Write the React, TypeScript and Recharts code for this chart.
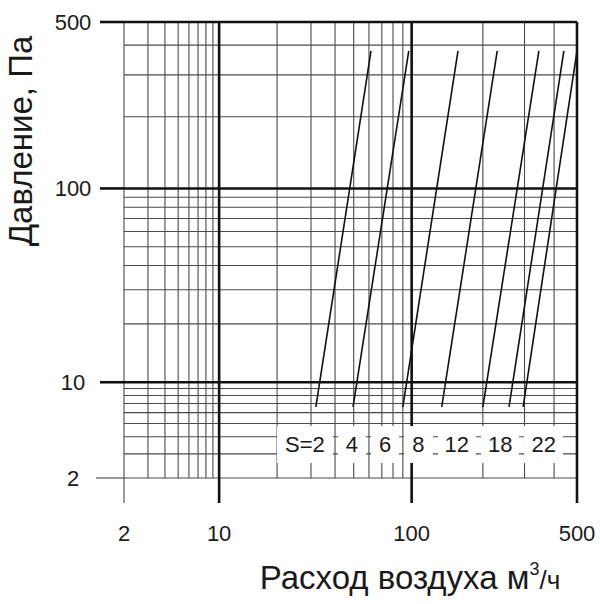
import React from 'react';
import { LineChart, Line, XAxis, YAxis, CartesianGrid, Legend } from 'recharts';

const FONT = '"Liberation Sans", Arial, Helvetica, sans-serif';

// damper settings S and where each characteristic starts and ends
const sValues = [2, 4, 6, 8, 12, 18, 22];
const flowAtLow = [31.8, 49.6, 90, 134, 200, 258, 296];
const flowAtHigh = [61.5, 96.6, 157, 230, 345, 440, 500];
const pressureLow = 6.6;
const pressureHigh = 378;

const axisTicks = [2, 10, 100, 500];
const majorGrid = [10, 100, 500];
const minorGrid = [2, 3, 4, 5, 6, 7, 8, 9, 20, 30, 40, 50, 60, 70, 80, 90, 200, 300, 400];

const series = sValues.map((s, i) => ({
  name: String(s),
  points: [
    { x: flowAtLow[i], y: pressureLow },
    { x: flowAtHigh[i], y: pressureHigh },
  ],
}));

// the printed axes are not a true log scale: 2..10 is squeezed and 100..500 stretched,
// so each segment gets its own share of the axis and is log inside it
const breaks = [2, 10, 100, 500];
const breakPos = [0, 0.21, 0.635, 1];

function brokenLog(v: number) {
  let i = 1;
  while (i < breaks.length - 1 && v > breaks[i]) i++;
  const t = Math.log(v / breaks[i - 1]) / Math.log(breaks[i] / breaks[i - 1]);
  return breakPos[i - 1] + t * (breakPos[i] - breakPos[i - 1]);
}

function makeScale(dom: number[] = [2, 500], rng: number[] = [0, 1]): any {
  const scale: any = (v: number) => rng[0] + brokenLog(v) * (rng[1] - rng[0]);
  scale.domain = (d?: number[]) => {
    if (!d) return dom;
    dom = [...d];
    return scale;
  };
  scale.range = (r?: number[]) => {
    if (!r) return rng;
    rng = [...r];
    return scale;
  };
  scale.copy = () => makeScale(dom, rng);
  scale.ticks = () => axisTicks;
  scale.invert = (px: number) => {
    const f = (px - rng[0]) / (rng[1] - rng[0]);
    let i = 1;
    while (i < breakPos.length - 1 && f > breakPos[i]) i++;
    const t = (f - breakPos[i - 1]) / (breakPos[i] - breakPos[i - 1]);
    return breaks[i - 1] * Math.pow(breaks[i] / breaks[i - 1], t);
  };
  return scale;
}

const XTick = (props: any) => {
  const { x, y, payload } = props;
  const major = payload.value !== 2;
  return (
    <g>
      <line x1={x} y1={y} x2={x} y2={y + 25} stroke={major ? '#111' : '#4a4a4a'} strokeWidth={major ? 2.6 : 1.1} />
      <text x={x} y={y + 63} textAnchor="middle" fontSize={22} fontFamily={FONT} fill="#1a1a1a">
        {payload.value}
      </text>
    </g>
  );
};

const YTick = (props: any) => {
  const { x, y, payload } = props;
  const major = payload.value !== 2;
  return (
    <g>
      <line x1={x - (major ? 24 : 28)} y1={y} x2={x} y2={y} stroke={major ? '#111' : '#4a4a4a'} strokeWidth={major ? 2.6 : 1.1} />
      <text x={x - 51} y={y + 8} textAnchor="middle" fontSize={22} fontFamily={FONT} fill="#1a1a1a">
        {payload.value}
      </text>
    </g>
  );
};

const xTitle = () => (
  <text x={410} y={589} textAnchor="middle" fontSize={33} fontFamily={FONT} fill="#1a1a1a">
    Расход воздуха м
    <tspan dy={-14} fontSize={18}>3</tspan>
    <tspan dy={14} fontSize={26}>/ч</tspan>
  </text>
);

const yTitle = () => (
  <text x={32} y={141} transform="rotate(-90 32 141)" textAnchor="middle" fontSize={33} fontFamily={FONT} fill="#1a1a1a">
    Давление, Па
  </text>
);

const renderLegend = ({ payload }: any) => {
  const items = [...(payload || [])].sort((a: any, b: any) => Number(a.value) - Number(b.value));
  return (
    <div style={{ display: 'flex', gap: 5 }}>
      {items.map((p: any, i: number) => (
        <div
          key={p.value}
          style={{
            background: '#fff',
            height: 37,
            lineHeight: '37px',
            padding: String(p.value).length > 1 ? '0 7px' : '0 8px',
            fontSize: 22,
            fontFamily: FONT,
            color: '#1a1a1a',
          }}
        >
          {i === 0 ? `S=${p.value}` : p.value}
        </div>
      ))}
    </div>
  );
};

export default function App() {
  return (
    <div>
      <style>{'body{margin:0}'}</style>
      <LineChart width={600} height={600} margin={{ top: 22, right: 23, bottom: 0, left: 0 }}>
        <CartesianGrid horizontalValues={minorGrid} verticalValues={minorGrid} stroke="#4a4a4a" strokeWidth={1.1} />
        <CartesianGrid horizontalValues={majorGrid} verticalValues={majorGrid} stroke="#111" strokeWidth={2.6} />
        <XAxis
          dataKey="x"
          type="number"
          scale={makeScale()}
          domain={[2, 500]}
          allowDataOverflow
          ticks={axisTicks}
          interval={0}
          axisLine={false}
          tickLine={false}
          tickSize={0}
          tickMargin={0}
          height={122}
          tick={<XTick />}
          label={xTitle}
        />
        <YAxis
          type="number"
          scale={makeScale()}
          domain={[2, 500]}
          allowDataOverflow
          ticks={axisTicks}
          interval={0}
          axisLine={false}
          tickLine={false}
          tickSize={0}
          tickMargin={0}
          width={124}
          tick={<YTick />}
          label={yTitle}
        />
        {series.map((s) => (
          <Line
            key={s.name}
            data={s.points}
            dataKey="y"
            name={s.name}
            stroke="#111"
            strokeWidth={1.6}
            dot={false}
            isAnimationActive={false}
          />
        ))}
        <Legend
          layout="horizontal"
          verticalAlign="middle"
          align="center"
          wrapperStyle={{ left: 277, top: 426, width: 'auto', height: 37 }}
          content={renderLegend}
        />
      </LineChart>
    </div>
  );
}
